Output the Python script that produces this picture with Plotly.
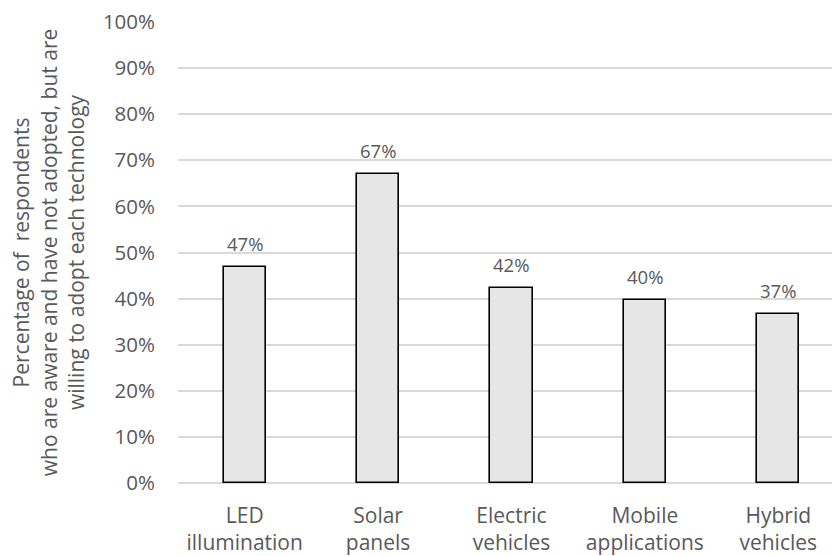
import plotly.graph_objects as go

# Share of respondents willing to adopt each technology
categories = ["LED<br>illumination", "Solar<br>panels", "Electric<br>vehicles",
              "Mobile<br>applications", "Hybrid<br>vehicles"]
willing_share = [0.469, 0.670, 0.422, 0.397, 0.367]
y_tick_values = [0, 0.1, 0.2, 0.3, 0.4, 0.5, 0.6, 0.7, 0.8, 0.9, 1.0]

FONT = "Open Sans"
TEXT_GREY = "#595959"

fig = go.Figure()
fig.add_trace(go.Bar(
    x=categories,
    y=willing_share,
    width=0.317,
    marker=dict(color="#e6e6e6", line=dict(color="#000000", width=1.6)),
    hoverinfo="skip",
))

# value labels above each bar
for cat, val in zip(categories, willing_share):
    fig.add_annotation(
        x=cat, y=val, text=f"{val:.0%}", showarrow=False,
        yanchor="bottom", yshift=9,
        font=dict(family=FONT, size=18.5, color=TEXT_GREY),
    )

fig.update_layout(
    width=832, height=556,
    margin=dict(l=178, r=0, t=22, b=73),
    paper_bgcolor="white", plot_bgcolor="white",
    showlegend=False,
    font=dict(family=FONT, size=20, color=TEXT_GREY),
    bargap=0,
)
fig.update_xaxes(
    range=[-0.5, 4.403],
    showgrid=False, showline=False, zeroline=False,
    tickfont=dict(family=FONT, size=21, color=TEXT_GREY),
    ticks="",
    ticklabelstandoff=18,
)
fig.update_yaxes(
    range=[0, 1.0],
    tickvals=y_tick_values,
    tickformat=".0%",
    showgrid=True, gridcolor="#d9d9d9", gridwidth=1.5,
    zeroline=True, zerolinecolor="#d9d9d9", zerolinewidth=1.5,
    showline=False, ticks="",
    ticklabelstandoff=22,
    tickfont=dict(family=FONT, size=20.5, color=TEXT_GREY),
    title=dict(
        text="Percentage of  respondents<br>who are aware and have not adopted, but are<br>willing to adopt each technology",
        font=dict(family=FONT, size=21, color=TEXT_GREY),
        standoff=12,
    ),
)

fig.write_html("out.html")
